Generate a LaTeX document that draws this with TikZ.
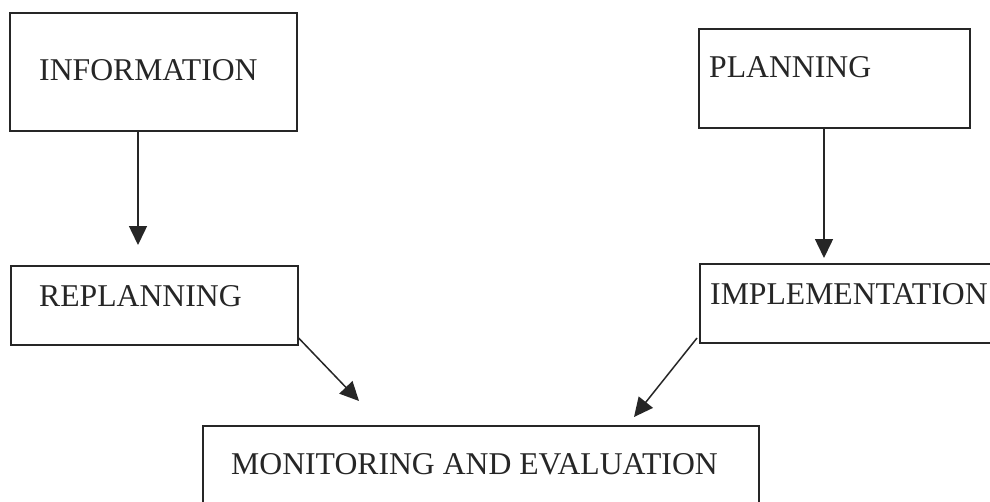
\documentclass[tikz,border=0pt]{standalone}
\usepackage{fontspec}
\setmainfont{Liberation Serif}
\usetikzlibrary{arrows.meta,calc}
\begin{document}
\begin{tikzpicture}[x=1pt,y=-1pt,
  stagebox/.style={draw=black!85,line width=1.6pt,rectangle,inner sep=0pt,anchor=north west},
  stagetext/.style={anchor=base west,inner sep=0pt,text=black!85,font=\fontsize{31.7}{38}\selectfont},
  flow/.style={draw=black!85,line width=1.5pt,-{Triangle[length=19pt,width=18pt]}}]
  % page area
  \fill[white] (0,0) rectangle (990,501);
  \clip (0,0) rectangle (990,501);

  % boxes
  \node[stagebox,minimum width=287pt,minimum height=118pt] (info) at (9,12) {};
  \node[stagebox,minimum width=271pt,minimum height=99pt] (plan) at (698,28) {};
  \node[stagebox,minimum width=287pt,minimum height=79pt] (replan) at (10,265) {};
  \node[stagebox,minimum width=300pt,minimum height=79pt] (impl) at (699,263) {};
  \node[stagebox,minimum width=556pt,minimum height=100pt] (monitor) at (202,425) {};

  % labels
  \node[stagetext] (tinfo) at (39,80) {INFORMATION};
  \node[stagetext] (tplan) at (709,77) {PLANNING};
  \node[stagetext] (treplan) at (39,306) {REPLANNING};
  \node[stagetext] (timpl) at (710,304) {IMPLEMENTATION};
  \node[stagetext] (tmonitor) at (231,474) {MONITORING AND EVALUATION};

  % arrow ends
  \coordinate (tip1) at (138,245);
  \coordinate (tip2) at (824,258);
  \coordinate (start3) at (298,338);
  \coordinate (tip3) at (359,401);
  \coordinate (tip4) at (634,417);
  \coordinate (start4) at (697,338);

  % connectors
  \draw[flow] (info.south -| tip1) -- (tip1);
  \draw[flow] (plan.south -| tip2) -- (tip2);
  \draw[flow] (replan.east |- start3) -- (tip3);
  \draw[flow] (start4) -- (tip4);
\end{tikzpicture}
\end{document}
